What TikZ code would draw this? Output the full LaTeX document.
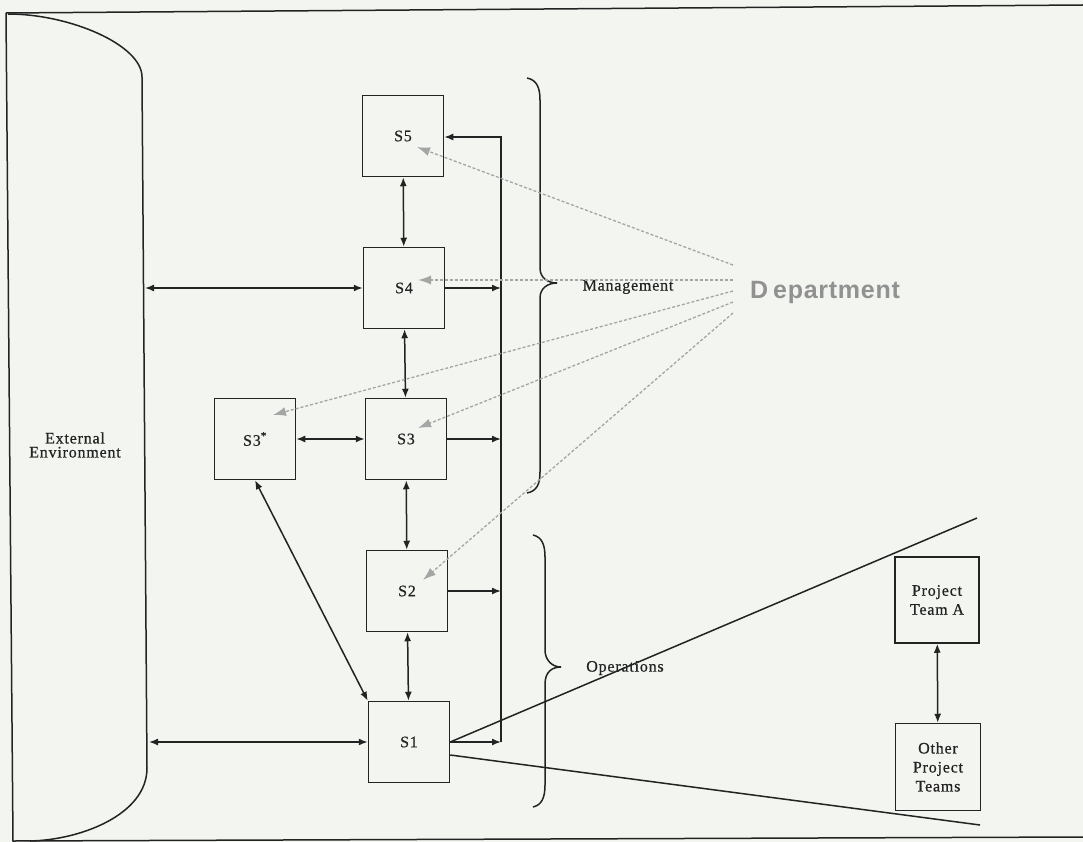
\documentclass[tikz,border=0pt]{standalone}
\usepackage{fontspec}
\usepackage{graphicx}
\setmainfont{Liberation Serif}
\newfontfamily\deptfont[LetterSpace=3]{Liberation Sans}
\newfontfamily\lblfont[LetterSpace=5,FakeBold=0.6]{Liberation Serif}
\usetikzlibrary{arrows.meta,calc}
\definecolor{ink}{RGB}{35,35,35}
\definecolor{paper}{RGB}{242,245,240}
\definecolor{dgray}{RGB}{165,165,165}
\definecolor{deptgray}{RGB}{145,145,145}
\begin{document}
\begin{tikzpicture}[x=1pt,y=-1pt,
  box/.style={draw=ink, line width=1.5pt, minimum width=81pt, minimum height=81pt, inner sep=0pt,
    font=\lblfont\fontsize{16}{19}\selectfont, text=ink, align=center},
  lbl/.style={font=\lblfont\fontsize{16}{14}\selectfont, text=ink, align=center, inner sep=0pt},
  plain/.style={draw=ink, line width=1.5pt},
  biarrow/.style={plain, {Latex[length=9pt,width=7pt]}-{Latex[length=9pt,width=7pt]}},
  onearrow/.style={plain, -{Latex[length=9pt,width=7pt]}},
  deptarrow/.style={draw=dgray, line width=1.3pt, dash pattern=on 3pt off 2pt, -{Latex[length=13pt,width=9pt]}}
]
\fill[paper] (0,0) rectangle (1083,842);
\useasboundingbox (0,0) rectangle (1083,842);

% frame
\draw[plain] (6,13) -- (1083,5);
\draw[plain] (6,13) -- (13,841) -- (1083,837);

% external environment
\draw[plain] (8,14) .. controls (70,14) and (142,45) .. (142,77) -- (147,768)
  .. controls (147,815) and (80,840) .. (30,841);
\node[lbl] (ext) at (75,445) {External\\Environment};
\coordinate (extR) at (145,289);
\coordinate (extR2) at (149,742);

% system boxes
\node[box] (s5) at (403,136) {S5};
\node[box] (s4) at (404,288) {S4};
\node[box] (s3) at (406,439) {S3};
\node[box] (s3a) at (255,439) {S3\textsuperscript{*}};
\node[box] (s2) at (407,591) {S2};
\node[box] (s1) at (409,742) {S1};
\node[box, minimum width=84pt, minimum height=86pt] (pta) at (937,600) {Project\\Team A};
\node[box, minimum width=85pt, minimum height=87pt] (opt) at (938,767) {Other\\Project\\Teams};

% vertical links
\draw[biarrow] (s5) -- (s4);
\draw[biarrow] (s4) -- (s3);
\draw[biarrow] (s3) -- (s2);
\draw[biarrow] (s2) -- (s1);
\draw[biarrow] (s3a) -- (s3);
\draw[biarrow] (s3a.south) -- (s1.north west);
\draw[biarrow] (pta) -- (opt);

% environment links
\draw[biarrow] (s4.west) -- (s4.west -| extR);
\draw[biarrow] (s1.west) -- (s1.west -| extR2);

% feedback channel
\coordinate (fb5) at (501,137);
\coordinate (fb1) at (501,742);
\draw[onearrow] (fb1) -- (fb5) -- (fb5 -| s5.east);
\draw[onearrow] (s4.east) -- (s4.east -| fb5);
\draw[onearrow] (s3.east) -- (s3.east -| fb5);
\draw[onearrow] (s2.east) -- (s2.east -| fb5);
\draw[onearrow] (s1.east) -- (s1.east -| fb5);

% lines to project teams
\coordinate (pa1) at (977,518);
\coordinate (pa2) at (980,825);
\draw[plain] (s1.east) -- (pa1);
\draw[plain] ($(s1.east)+(0,13)$) -- (pa2);

% braces
\draw[plain] (527,78) .. controls (537,80) and (540,88) .. (540,100) -- (540,268)
  .. controls (540,278) and (548,283) .. (557,283)
  .. controls (548,283) and (540,288) .. (540,298) -- (540,472)
  .. controls (540,484) and (537,491) .. (527,493);
\draw[plain] (533,535) .. controls (542,537) and (545,545) .. (545,557) -- (545,650)
  .. controls (545,660) and (552,667) .. (561,667)
  .. controls (552,667) and (545,672) .. (545,684) -- (545,785)
  .. controls (545,797) and (542,805) .. (533,807);
\node[lbl] (mgmt) at (628,287) {Management};
\node[lbl] (ops) at (625,668) {Operations};

% department
\node[font=\deptfont\bfseries\fontsize{25}{28}\selectfont, text=deptgray, inner sep=0pt] (dept) at (825,292) {D\kern5pt epartment};
\coordinate (d5) at (733,265);
\coordinate (d4) at (733,280);
\coordinate (d3a) at (733,291);
\coordinate (d3) at (733,302);
\coordinate (d2) at (733,313);
\draw[deptarrow] (d5) -- ($(s5)+(14,11)$);
\draw[deptarrow] (d4) -- ($(s4)+(14,-8)$);
\draw[deptarrow] (d3a) -- ($(s3a)+(18,-24)$);
\draw[deptarrow] (d3) -- ($(s3)+(12,-11)$);
\draw[deptarrow] (d2) -- ($(s2)+(16,-11)$);
\end{tikzpicture}
\end{document}
